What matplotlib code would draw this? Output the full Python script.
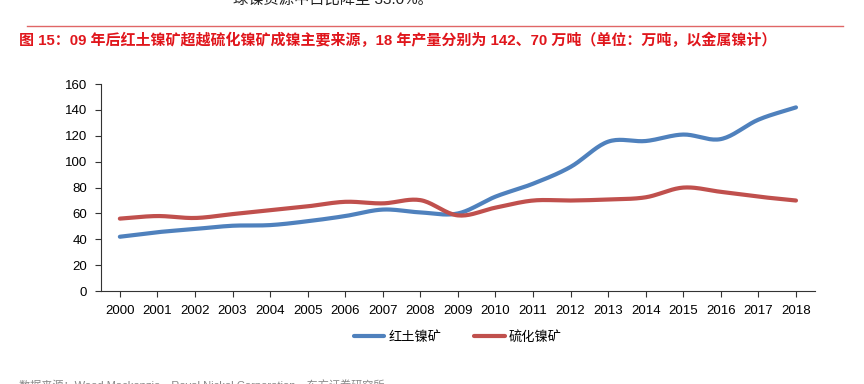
import numpy as np
import matplotlib.pyplot as plt

plt.rcParams['font.family'] = ['Liberation Sans', 'Noto Sans CJK SC', 'DejaVu Sans']

# Data (万吨, 以金属镍计)
years = [str(y) for y in range(2000, 2019)]
laterite = [42, 45.5, 48, 50.5, 51, 54, 58, 63, 60.8, 60, 73, 83, 96, 115.5, 116, 121, 117.5, 132.5, 142]
sulfide = [56, 58, 56.5, 59.5, 62.5, 65.5, 69, 67.8, 70.3, 58.5, 64.5, 70, 70, 70.8, 72.5, 80, 76.7, 73, 70]
series_names = ['红土镍矿', '硫化镍矿']
colors = ['#4F81BD', '#C0504D']


def smooth(x, y, n=20):
    # Catmull-Rom style smoothing, like Excel's smoothed lines
    x = np.asarray(x, float)
    y = np.asarray(y, float)
    px = np.concatenate([[2 * x[0] - x[1]], x, [2 * x[-1] - x[-2]]])
    py = np.concatenate([[2 * y[0] - y[1]], y, [2 * y[-1] - y[-2]]])
    xs, ys = [], []
    t = np.linspace(0, 1, n, endpoint=False)
    for i in range(1, len(px) - 2):
        p0, p1, p2, p3 = py[i - 1], py[i], py[i + 1], py[i + 2]
        q0, q1, q2, q3 = px[i - 1], px[i], px[i + 1], px[i + 2]
        ys.append(0.5 * (2 * p1 + (-p0 + p2) * t + (2 * p0 - 5 * p1 + 4 * p2 - p3) * t**2
                         + (-p0 + 3 * p1 - 3 * p2 + p3) * t**3))
        xs.append(0.5 * (2 * q1 + (-q0 + q2) * t + (2 * q0 - 5 * q1 + 4 * q2 - q3) * t**2
                         + (-q0 + 3 * q1 - 3 * q2 + q3) * t**3))
    xs.append([x[-1]])
    ys.append([y[-1]])
    return np.concatenate(xs), np.concatenate(ys)


fig = plt.figure(figsize=(8.64, 3.84), dpi=100)
ax = fig.add_axes([0.117, 0.242, 0.826, 0.539])

xpos = np.arange(len(years))
for vals, name, c in zip([laterite, sulfide], series_names, colors):
    sx, sy = smooth(xpos, vals)
    ax.plot(sx, sy, color=c, lw=3, label=name, solid_capstyle='round')

ax.set_xlim(-0.5, len(years) - 0.5)
ax.set_ylim(0, 160)
ax.set_yticks(range(0, 161, 20))
ax.set_xticks(xpos)
ax.set_xticklabels(years)
ax.tick_params(axis='both', labelsize=9.5, direction='out', length=4, color='#333333', pad=6)
for s in ['top', 'right']:
    ax.spines[s].set_visible(False)
for s in ['left', 'bottom']:
    ax.spines[s].set_color('#333333')

ax.legend(loc='upper center', bbox_to_anchor=(0.5, -0.135), ncol=2, frameon=False,
          fontsize=9.5, handlelength=2.3, columnspacing=2.5, handletextpad=0.3)

# header / footer
fig.text(0.27, 1.0, '球镍资源中占比降至 33.0%。', fontsize=11, color='#222222',
         ha='left', va='center')
fig.add_artist(plt.Line2D([0.031, 0.976], [0.933, 0.933], color='#E06666', lw=1))
fig.text(0.022, 0.895, '图 15：09 年后红土镍矿超越硫化镍矿成镍主要来源，18 年产量分别为 142、70 万吨（单位：万吨，以金属镍计）',
         fontsize=10.8, color='#E0161C', fontweight='bold', ha='left', va='center')
fig.text(0.022, -0.003, '数据来源：Wood Mackenzie，Royal Nickel Corporation，东方证券研究所',
         fontsize=8, color='#888888', ha='left', va='center')

fig.savefig('out.png', dpi=100)
